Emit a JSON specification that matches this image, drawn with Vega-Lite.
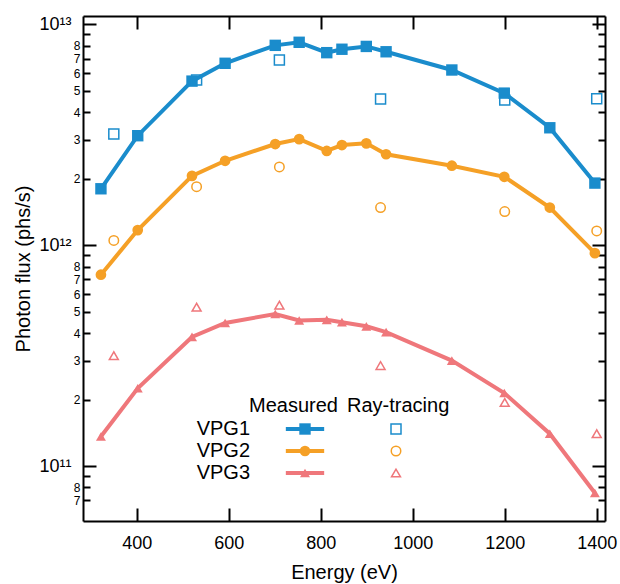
{
  "$schema": "https://vega.github.io/schema/vega-lite/v6.json",
  "width": 522,
  "height": 505,
  "autosize": {"type": "none"},
  "padding": {"left": 83, "top": 16, "right": 15, "bottom": 63},
  "background": "white",
  "config": {
    "font": "Liberation Sans",
    "view": {"stroke": null},
    "axis": {
      "grid": false,
      "domainColor": "black",
      "domainWidth": 2,
      "tickColor": "black",
      "tickWidth": 2,
      "labelColor": "black",
      "titleColor": "black",
      "labelFont": "Liberation Sans",
      "titleFont": "Liberation Sans",
      "titleFontWeight": "normal",
      "labelOverlap": false,
      "labelFlush": false,
      "labelBound": false
    },
    "legend": {
      "titleFont": "Liberation Sans",
      "labelFont": "Liberation Sans",
      "titleFontWeight": "normal",
      "titleColor": "black",
      "labelColor": "black",
      "titleFontSize": 20,
      "labelFontSize": 20,
      "padding": 0,
      "offset": 0
    }
  },
  "datasets": {
    "measured": [
      {"series": "VPG1", "energy": 322, "flux": 1.80e12},
      {"series": "VPG1", "energy": 402, "flux": 3.13e12},
      {"series": "VPG1", "energy": 520, "flux": 5.53e12},
      {"series": "VPG1", "energy": 592, "flux": 6.66e12},
      {"series": "VPG1", "energy": 701, "flux": 8.03e12},
      {"series": "VPG1", "energy": 753, "flux": 8.29e12},
      {"series": "VPG1", "energy": 813, "flux": 7.44e12},
      {"series": "VPG1", "energy": 846, "flux": 7.71e12},
      {"series": "VPG1", "energy": 899, "flux": 7.94e12},
      {"series": "VPG1", "energy": 942, "flux": 7.51e12},
      {"series": "VPG1", "energy": 1085, "flux": 6.21e12},
      {"series": "VPG1", "energy": 1199, "flux": 4.88e12},
      {"series": "VPG1", "energy": 1298, "flux": 3.40e12},
      {"series": "VPG1", "energy": 1396, "flux": 1.91e12},
      {"series": "VPG2", "energy": 322, "flux": 7.35e11},
      {"series": "VPG2", "energy": 402, "flux": 1.17e12},
      {"series": "VPG2", "energy": 520, "flux": 2.06e12},
      {"series": "VPG2", "energy": 592, "flux": 2.41e12},
      {"series": "VPG2", "energy": 701, "flux": 2.87e12},
      {"series": "VPG2", "energy": 753, "flux": 3.02e12},
      {"series": "VPG2", "energy": 813, "flux": 2.67e12},
      {"series": "VPG2", "energy": 846, "flux": 2.84e12},
      {"series": "VPG2", "energy": 899, "flux": 2.89e12},
      {"series": "VPG2", "energy": 942, "flux": 2.58e12},
      {"series": "VPG2", "energy": 1085, "flux": 2.29e12},
      {"series": "VPG2", "energy": 1199, "flux": 2.04e12},
      {"series": "VPG2", "energy": 1298, "flux": 1.48e12},
      {"series": "VPG2", "energy": 1396, "flux": 9.20e11},
      {"series": "VPG3", "energy": 322, "flux": 1.36e11},
      {"series": "VPG3", "energy": 402, "flux": 2.25e11},
      {"series": "VPG3", "energy": 520, "flux": 3.84e11},
      {"series": "VPG3", "energy": 592, "flux": 4.44e11},
      {"series": "VPG3", "energy": 701, "flux": 4.88e11},
      {"series": "VPG3", "energy": 753, "flux": 4.56e11},
      {"series": "VPG3", "energy": 813, "flux": 4.59e11},
      {"series": "VPG3", "energy": 846, "flux": 4.48e11},
      {"series": "VPG3", "energy": 899, "flux": 4.29e11},
      {"series": "VPG3", "energy": 942, "flux": 4.04e11},
      {"series": "VPG3", "energy": 1085, "flux": 3.00e11},
      {"series": "VPG3", "energy": 1199, "flux": 2.14e11},
      {"series": "VPG3", "energy": 1298, "flux": 1.40e11},
      {"series": "VPG3", "energy": 1396, "flux": 7.55e10}
    ],
    "ray": [
      {"series": "VPG1", "energy": 350, "flux": 3.19e12},
      {"series": "VPG1", "energy": 530, "flux": 5.59e12},
      {"series": "VPG1", "energy": 710, "flux": 6.89e12},
      {"series": "VPG1", "energy": 930, "flux": 4.59e12},
      {"series": "VPG1", "energy": 1200, "flux": 4.54e12},
      {"series": "VPG1", "energy": 1400, "flux": 4.60e12},
      {"series": "VPG2", "energy": 350, "flux": 1.05e12},
      {"series": "VPG2", "energy": 530, "flux": 1.84e12},
      {"series": "VPG2", "energy": 710, "flux": 2.26e12},
      {"series": "VPG2", "energy": 930, "flux": 1.48e12},
      {"series": "VPG2", "energy": 1200, "flux": 1.42e12},
      {"series": "VPG2", "energy": 1400, "flux": 1.16e12},
      {"series": "VPG3", "energy": 350, "flux": 3.16e11},
      {"series": "VPG3", "energy": 530, "flux": 5.24e11},
      {"series": "VPG3", "energy": 710, "flux": 5.35e11},
      {"series": "VPG3", "energy": 930, "flux": 2.85e11},
      {"series": "VPG3", "energy": 1200, "flux": 1.94e11},
      {"series": "VPG3", "energy": 1400, "flux": 1.40e11}
    ]
  },
  "layer": [
    {
      "data": {"name": "measured"},
      "encoding": {
        "x": {
          "field": "energy", "type": "quantitative",
          "scale": {"domain": [283, 1418], "nice": false, "zero": false},
          "axis": {
            "orient": "bottom", "title": "Energy (eV)", "format": "d",
            "values": [400, 600, 800, 1000, 1200, 1400],
            "tickSize": -13, "labelPadding": 26, "labelFontSize": 18,
            "titleFontSize": 20, "titlePadding": 10
          }
        },
        "y": {
          "field": "flux", "type": "quantitative",
          "scale": {"type": "log", "domain": [5.636e10, 1.0904e13], "nice": false},
          "axis": {
            "orient": "left", "title": "Photon flux (phs/s)",
            "values": [7e10, 8e10, 9e10, 1e11, 2e11, 3e11, 4e11, 5e11, 6e11, 7e11, 8e11, 9e11, 1e12, 2e12, 3e12, 4e12, 5e12, 6e12, 7e12, 8e12, 9e12, 1e13],
            "labelExpr": "datum.value == 1e13 ? '10¹³' : datum.value == 1e12 ? '10¹²' : datum.value == 1e11 ? '10¹¹' : round(datum.value / pow(10, floor(log(datum.value) / LN10 + 0.000001))) == 9 ? '' : '' + round(datum.value / pow(10, floor(log(datum.value) / LN10 + 0.000001)))",
            "tickSize": {"condition": {"test": "datum.value == 1e11 || datum.value == 1e12 || datum.value == 1e13", "value": -13}, "value": -7},
            "labelPadding": {"condition": {"test": "datum.value == 1e11 || datum.value == 1e12 || datum.value == 1e13", "value": 25}, "value": 10},
            "labelFontSize": {"condition": {"test": "datum.value == 1e11 || datum.value == 1e12 || datum.value == 1e13", "value": 18}, "value": 12},
            "titleFontSize": 20, "titlePadding": 5
          }
        }
      },
      "layer": [
        {
          "mark": {"type": "line", "strokeWidth": 4},
          "encoding": {
            "stroke": {
              "field": "series", "type": "nominal",
              "scale": {"range": ["#1a8ccc", "#f5a026", "#ef777b"]},
              "legend": {
                "orient": "none", "legendX": 166, "legendY": 403,
                "title": null,
                "labelAlign": "right", "labelOffset": -65,
                "symbolType": "M-3.5,0H3.5", "symbolSize": 120, "symbolStrokeWidth": 4, "symbolOffset": 46,
                "rowPadding": 2
              }
            }
          }
        },
        {
          "mark": {"type": "point", "filled": true, "opacity": 1, "strokeWidth": 0},
          "encoding": {
            "color": {
              "field": "series", "type": "nominal",
              "scale": {"domain": ["VPG1", "VPG2", "VPG3"], "range": ["#1a8ccc", "#f5a026", "#ef777b"]},
              "legend": {
                "orient": "none", "legendX": 166, "legendY": 380,
                "title": "Measured", "titlePadding": 3,
                "labelOpacity": 0,
                "symbolSize": 169, "symbolOffset": 46, "symbolStrokeWidth": 0, "symbolOpacity": 1,
                "rowPadding": 2
              }
            },
            "shape": {
              "field": "series", "type": "nominal",
              "scale": {"domain": ["VPG1", "VPG2", "VPG3"], "range": ["square", "circle", "triangle-up"]},
              "legend": null
            },
            "size": {
              "field": "series", "type": "nominal",
              "scale": {"domain": ["VPG1", "VPG2", "VPG3"], "range": [130, 100, 175]},
              "legend": null
            }
          }
        }
      ]
    },
    {
      "data": {"name": "ray"},
      "mark": {"type": "point", "filled": false, "opacity": 1, "strokeWidth": 1.5},
      "encoding": {
        "x": {
          "field": "energy", "type": "quantitative",
          "scale": {"domain": [283, 1418], "nice": false, "zero": false},
          "axis": {
            "orient": "top", "title": null, "labels": false,
            "values": [400, 600, 800, 1000, 1200, 1400],
            "tickSize": -13
          }
        },
        "y": {
          "field": "flux", "type": "quantitative",
          "scale": {"type": "log", "domain": [5.636e10, 1.0904e13], "nice": false},
          "axis": {
            "orient": "right", "title": null, "labels": false,
            "values": [7e10, 8e10, 9e10, 1e11, 2e11, 3e11, 4e11, 5e11, 6e11, 7e11, 8e11, 9e11, 1e12, 2e12, 3e12, 4e12, 5e12, 6e12, 7e12, 8e12, 9e12, 1e13],
            "tickSize": {"condition": {"test": "datum.value == 1e11 || datum.value == 1e12 || datum.value == 1e13", "value": -13}, "value": -7}
          }
        },
        "color": {
          "field": "series", "type": "nominal",
          "scale": {"domain": ["VPG1", "VPG2", "VPG3"], "range": ["#1a8ccc", "#f5a026", "#ef777b"]},
          "legend": {
            "orient": "none", "legendX": 264, "legendY": 380,
            "title": "Ray-tracing", "titlePadding": 3,
            "labelOpacity": 0,
            "symbolSize": 110, "symbolOffset": 39, "symbolStrokeWidth": 1.5, "symbolOpacity": 1,
            "rowPadding": 2
          }
        },
        "shape": {
          "field": "series", "type": "nominal",
          "scale": {"domain": ["VPG1", "VPG2", "VPG3"], "range": ["square", "circle", "triangle-up"]},
          "legend": null
        },
        "size": {
          "field": "series", "type": "nominal",
          "scale": {"domain": ["VPG1", "VPG2", "VPG3"], "range": [100, 80, 140]},
          "legend": null
        }
      }
    }
  ],
  "resolve": {
    "scale": {"color": "independent", "shape": "independent", "size": "independent"},
    "axis": {"x": "independent", "y": "independent"}
  }
}
